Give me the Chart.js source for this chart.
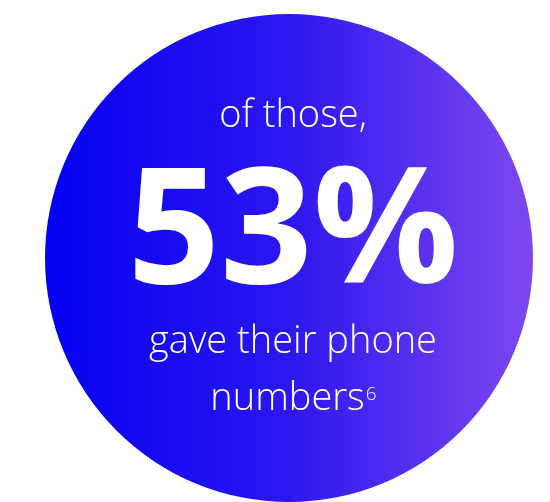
<!DOCTYPE html>
<html>
<head>
<meta charset="utf-8">
<script src="https://cdn.jsdelivr.net/npm/chart.js@4.4.0/dist/chart.umd.min.js"></script>
<style>
  html, body { margin: 0; padding: 0; background: #fff; }
  #wrap { width: 550px; height: 502px; }
</style>
</head>
<body>
<div id="wrap"><canvas id="stat"></canvas></div>
<script>
// data
const sliceLabels = ['of those'];
const sliceValues = [100];
const statValue = 53;
const topLine = 'of those,';
const bottomLines = ['gave their phone', 'numbers'];
const footnote = '6';

const FONT = '"Open Sans", "Noto Sans", sans-serif';

const statText = {
  id: 'statText',
  afterDraw(chart) {
    const arc = chart.getDatasetMeta(0).data[0];
    if (!arc) return;
    const { ctx } = chart;
    const cx = arc.x + 4, cy = arc.y;
    ctx.save();
    ctx.fillStyle = '#ffffff';
    ctx.textAlign = 'center';
    ctx.textBaseline = 'alphabetic';

    ctx.font = '300 38px ' + FONT;
    ctx.fillText(topLine, cx, cy - 131);

    ctx.font = '700 162px ' + FONT;
    ctx.fillText(statValue + '%', cx, cy + 25);

    ctx.font = '300 38px ' + FONT;
    ctx.fillText(bottomLines[0], cx, cy + 95);

    // last line with superscript footnote
    const w1 = ctx.measureText(bottomLines[1]).width;
    ctx.font = '300 19px ' + FONT;
    const w2 = ctx.measureText(footnote).width;
    const x0 = cx - (w1 + w2) / 2;
    ctx.textAlign = 'left';
    ctx.font = '300 38px ' + FONT;
    ctx.fillText(bottomLines[1], x0, cy + 152);
    ctx.font = '300 19px ' + FONT;
    ctx.fillText(footnote, x0 + w1 + 1, cy + 142);
    ctx.restore();
  }
};

new Chart(document.getElementById('stat'), {
  type: 'pie',
  data: {
    labels: sliceLabels,
    datasets: [{
      data: sliceValues,
      borderWidth: 0,
      hoverOffset: 0,
      offset: 0,
      backgroundColor: (c) => {
        const area = c.chart.chartArea;
        if (!area) return '#2a10f0';
        const g = c.chart.ctx.createLinearGradient(area.left, 0, area.right, 0);
        g.addColorStop(0, '#0500f2');
        g.addColorStop(0.5, '#2c17ef');
        g.addColorStop(1, '#7e48ef');
        return g;
      }
    }]
  },
  options: {
    responsive: true,
    maintainAspectRatio: false,
    animation: false,
    layout: { padding: { left: 45, right: 17, top: 14, bottom: 0 } },
    plugins: {
      legend: { display: false },
      tooltip: { enabled: false }
    }
  },
  plugins: [statText]
});
</script>
</body>
</html>
